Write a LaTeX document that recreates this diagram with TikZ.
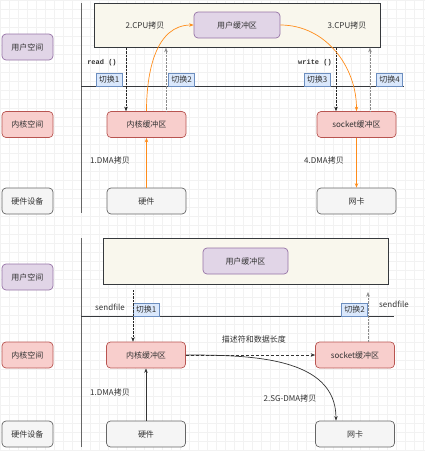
\documentclass[tikz,border=0pt]{standalone}
\usepackage{fontspec}
\setmainfont{Noto Sans CJK SC}
\newfontfamily\codefont{Liberation Mono}
\usepackage{xcolor}
\definecolor{userfill}{HTML}{E1D5E7}
\definecolor{userdraw}{HTML}{9673A6}
\definecolor{kernfill}{HTML}{F8CECC}
\definecolor{kerndraw}{HTML}{B85450}
\definecolor{hwfill}{HTML}{F5F5F5}
\definecolor{hwdraw}{HTML}{666666}
\definecolor{swfill}{HTML}{DAE8FC}
\definecolor{swdraw}{HTML}{6C8EBF}
\definecolor{appfill}{HTML}{F9F7ED}
\definecolor{appdraw}{HTML}{36393D}
\definecolor{cpyorange}{HTML}{FF8C1A}
\definecolor{txtgray}{HTML}{333333}
\usetikzlibrary{arrows.meta,positioning}

\begin{document}
\begin{tikzpicture}[x=1pt,y=-1pt,
  box/.style={draw,rounded corners=4pt,line width=0.7pt,minimum width=79pt,minimum height=26pt,
    inner sep=1pt,font=\fontsize{8}{9}\selectfont,text=txtgray},
  side/.style={box,minimum width=51pt},
  userbox/.style={fill=userfill,draw=userdraw},
  kernbox/.style={fill=kernfill,draw=kerndraw},
  hwbox/.style={fill=hwfill,draw=hwdraw},
  appbox/.style={draw=appdraw,fill=appfill,line width=0.7pt,anchor=north west,inner sep=0pt},
  swbox/.style={draw=swdraw,fill=swfill,minimum width=26pt,minimum height=13pt,inner sep=0pt,
    anchor=south,font=\fontsize{8}{9}\selectfont,text=txtgray},
  lbl/.style={font=\fontsize{8}{9}\selectfont,text=txtgray,inner sep=1pt},
  call/.style={font=\codefont\bfseries\fontsize{7}{8}\selectfont,text=txtgray,inner sep=1pt},
  gridline/.style={draw=black!5,line width=0.4pt},
  tip/.style={-{Stealth[length=4.5pt,width=3.5pt]}},
  down/.style={tip,densely dotted,draw=black!85},
  up/.style={tip,densely dotted,draw=black!45},
  cpy/.style={tip,draw=cpyorange,line width=0.7pt},
  dma/.style={tip,draw=txtgray,line width=0.7pt}
]
  \useasboundingbox (0,0) rectangle (425,451);
  % background grid
  \foreach \gx in {0,9,...,423} \draw[gridline] (\gx,0) -- (\gx,451);
  \foreach \gy in {0,9,...,450} \draw[gridline] (0,\gy) -- (425,\gy);

  % ---- read + write ----
  \node[side,userbox] (us1) at (27.5,47) {用户空间};
  \node[side,kernbox] (ks1) at (27.5,124.5) {内核空间};
  \node[side,hwbox] (hs1) at (27.5,201) {硬件设备};
  \draw[hwdraw,line width=0.7pt] (81,3) -- (81,213);
  \node[appbox,minimum width=286pt,minimum height=44pt] (app1) at (94,3) {};
  \node[box,userbox,minimum width=86pt] (ubuf1) at (237,25) {用户缓冲区};
  \node[lbl] (c2) at (145,25) {2.CPU拷贝};
  \node[lbl] (c3) at (347,25) {3.CPU拷贝};
  \draw[appdraw,line width=0.7pt] (81,86) -- (404,86);
  \node[swbox] (sw1) at (109,86) {切换1};
  \node[swbox] (sw2) at (181.5,86) {切换2};
  \node[swbox] (sw3) at (317,86) {切换3};
  \node[swbox] (sw4) at (389.5,86) {切换4};
  \node[call] (rd) at (102,63) {read ()};
  \node[call] (wr) at (315,63) {write ()};
  \node[box,kernbox] (kbuf1) at (146.5,124.5) {内核缓冲区};
  \node[box,kernbox] (sbuf1) at (356.5,124.5) {socket缓冲区};
  \node[box,hwbox] (hw1) at (146.5,201) {硬件};
  \node[box,hwbox] (nic1) at (356.5,201) {网卡};
  \node[lbl] (d1) at (110,160) {1.DMA拷贝};
  \node[lbl] (d4) at (324,160) {4.DMA拷贝};
  % switches
  \draw[down] (126,0 |- app1.south) -- (126,0 |- kbuf1.north);
  \draw[up] (166,0 |- kbuf1.north) -- (166,0 |- app1.south);
  \draw[down] (336,0 |- app1.south) -- (336,0 |- sbuf1.north);
  \draw[up] (370,0 |- sbuf1.north) -- (370,0 |- app1.south);
  % copies
  \draw[cpy] (hw1.north) -- (kbuf1.south);
  \draw[cpy] (kbuf1.north) to[out=90,in=180] (ubuf1.west);
  \draw[cpy] (ubuf1.east) to[out=0,in=90] (sbuf1.north);
  \draw[cpy] (sbuf1.south) -- (nic1.north);

  % ---- sendfile ----
  \node[side,userbox] (us2) at (27.5,277) {用户空间};
  \node[side,kernbox] (ks2) at (27.5,355) {内核空间};
  \node[side,hwbox] (hs2) at (27.5,434) {硬件设备};
  \draw[hwdraw,line width=0.7pt] (81,238) -- (81,447);
  \node[appbox,minimum width=285pt,minimum height=46pt] (app2) at (103,238) {};
  \node[box,userbox,minimum width=85pt] (ubuf2) at (245.5,261) {用户缓冲区};
  \draw[appdraw,line width=0.7pt] (81,316) -- (394,316);
  \node[swbox] (sw5) at (146,316) {切换1};
  \node[swbox] (sw6) at (354.5,316) {切换2};
  \node[lbl] (sf1) at (110,307) {sendfile};
  \node[lbl] (sf2) at (394,304) {sendfile};
  \node[box,kernbox] (kbuf2) at (146,355) {内核缓冲区};
  \node[box,kernbox] (sbuf2) at (355,355) {socket缓冲区};
  \node[box,hwbox] (hw2) at (146,434) {硬件};
  \node[box,hwbox] (nic2) at (355,434) {网卡};
  \node[lbl] (d5) at (110,392) {1.DMA拷贝};
  \node[lbl] (desc) at (254,339) {描述符和数据长度};
  \node[lbl] (sg) at (290,398) {2.SG-DMA拷贝};
  % switches
  \draw[down] (133,290) -- (133,0 |- kbuf2.north);
  \draw[up] (368,0 |- sbuf2.north) -- (368,292);
  % copies
  \draw[dma] (hw2.north) -- (kbuf2.south);
  \draw[tip,densely dashed,draw=txtgray] (kbuf2.east) -- (sbuf2.west);
  \draw[dma] (kbuf2.east) to[out=0,in=90] (336,0 |- nic2.north);
\end{tikzpicture}
\end{document}
